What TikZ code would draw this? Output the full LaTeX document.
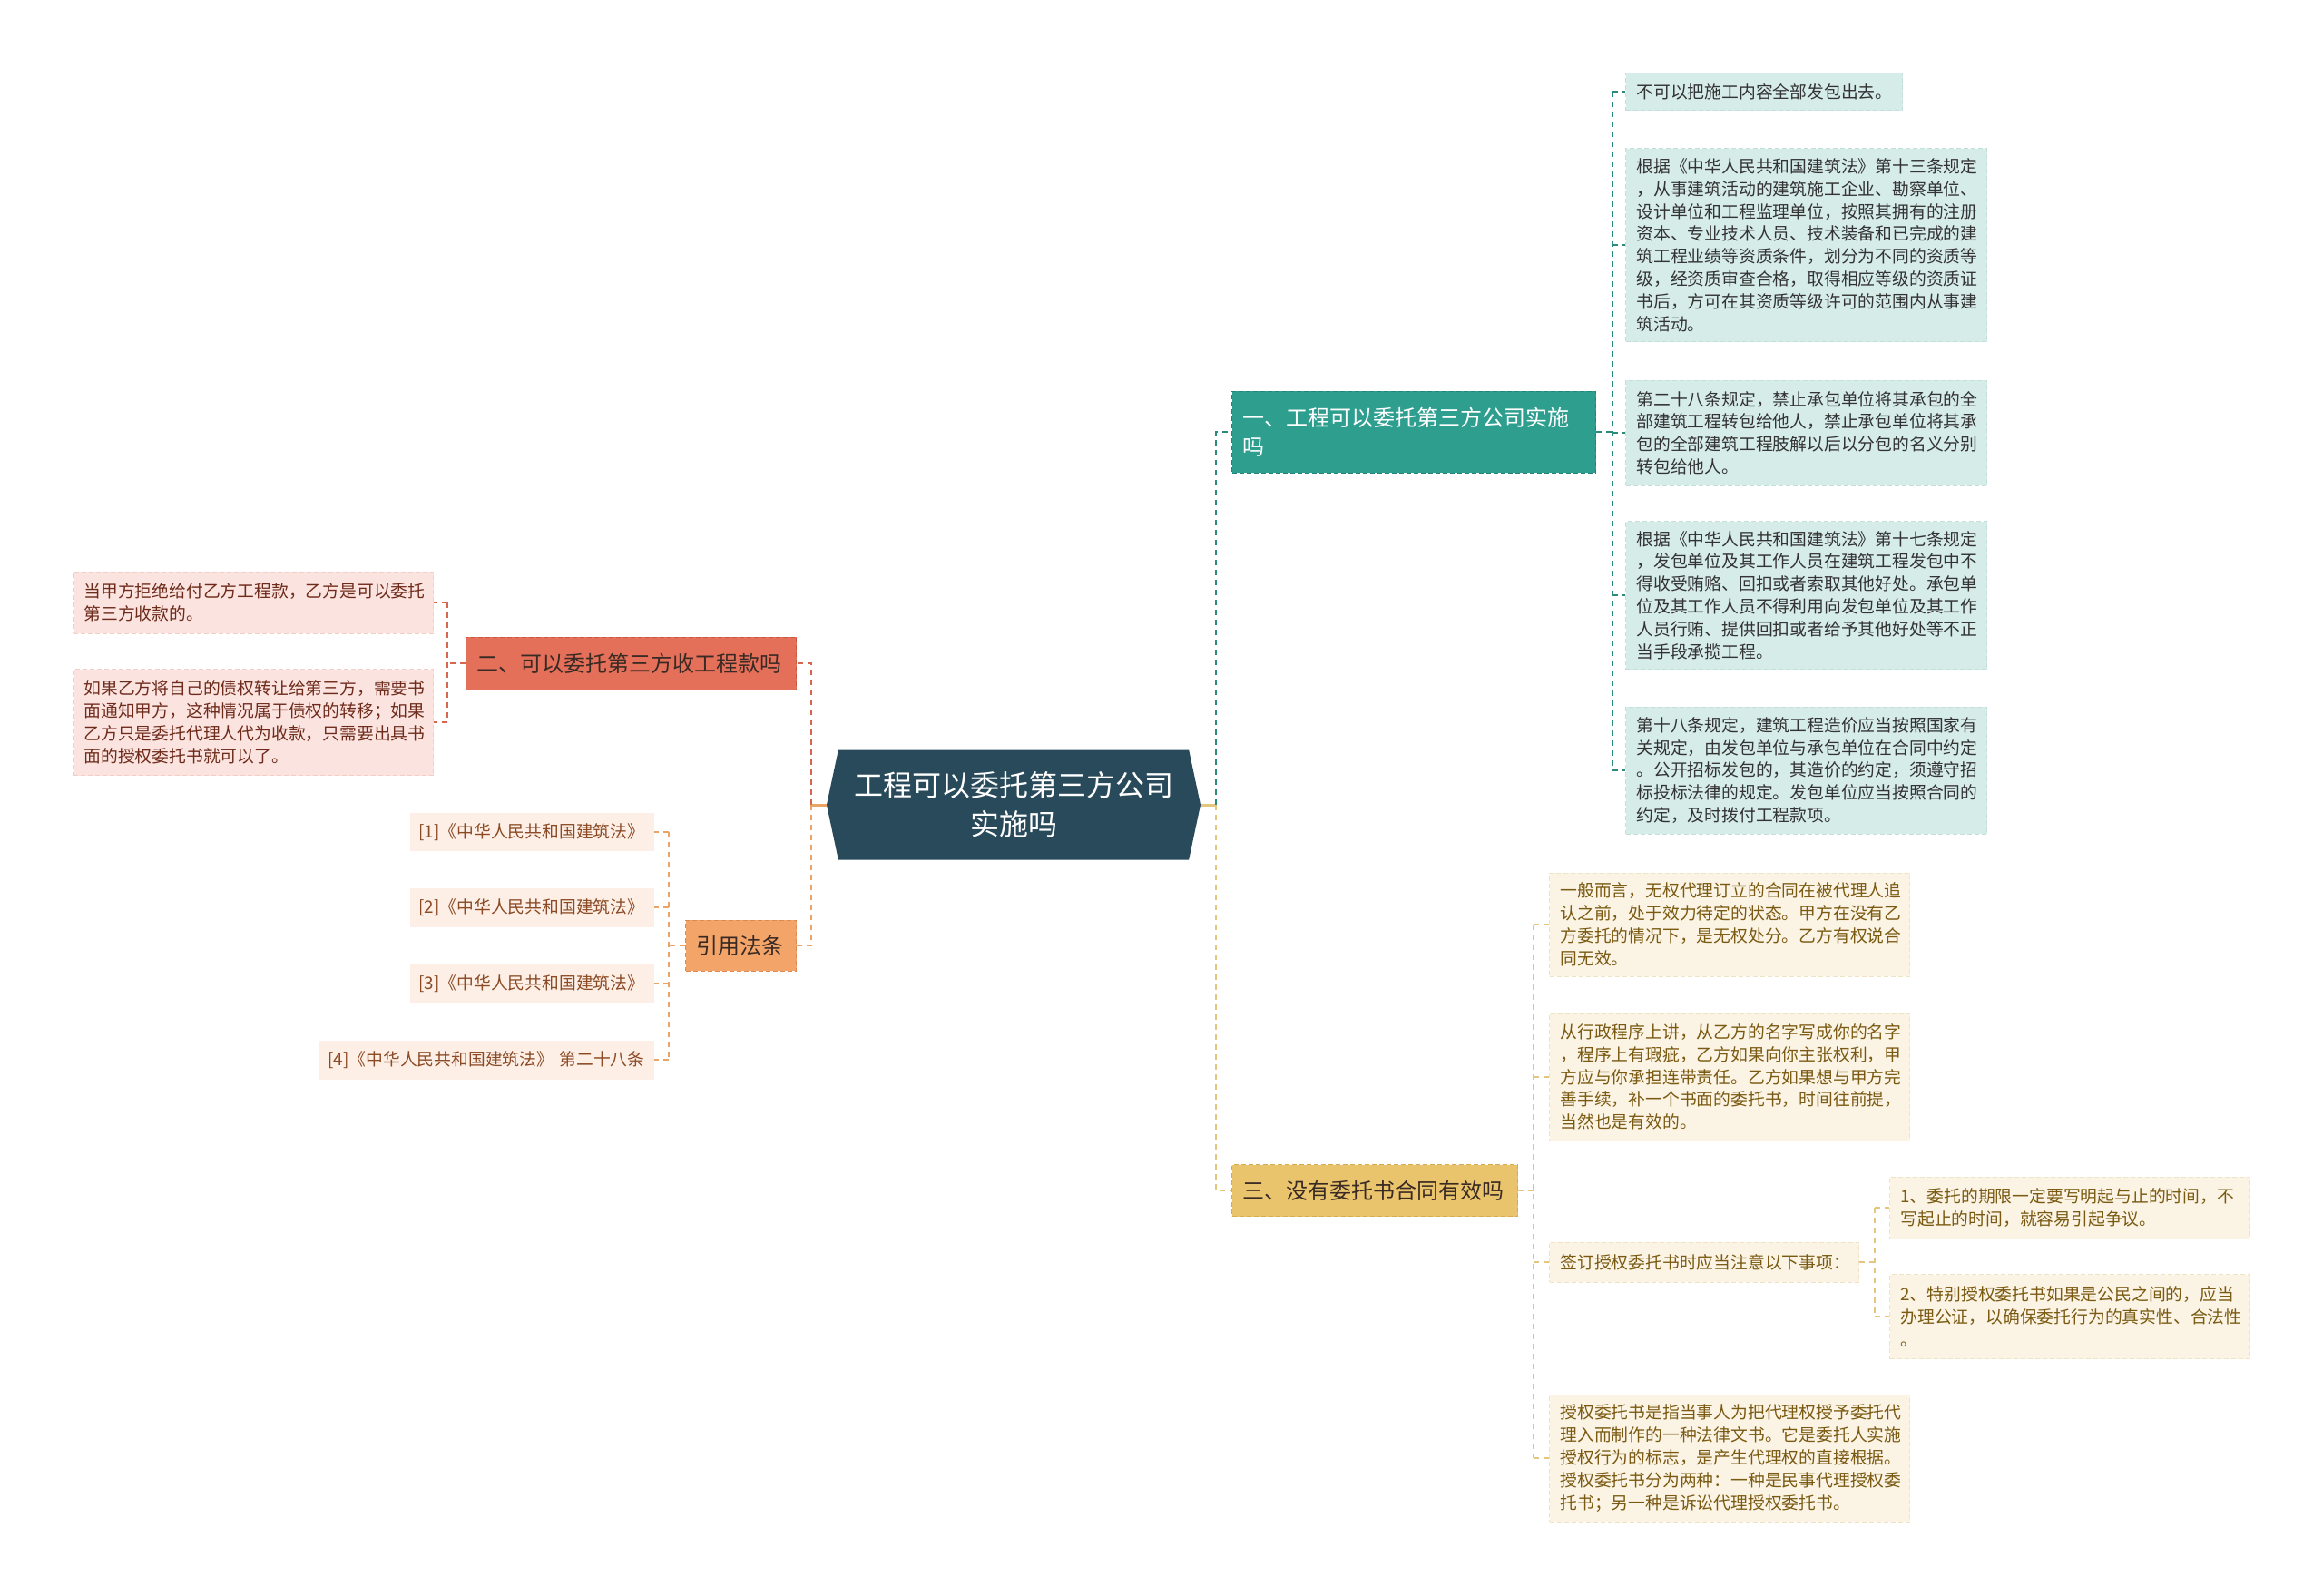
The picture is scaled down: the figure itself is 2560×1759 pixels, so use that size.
\documentclass[tikz,border=0pt]{standalone}
\usepackage{fontspec}
\setmainfont{Noto Sans CJK SC}
\usetikzlibrary{shapes.symbols}

\definecolor{rootfill}{HTML}{284A5A}
\definecolor{tealfill}{HTML}{2E9E8F}
\definecolor{tealdraw}{HTML}{23857A}
\definecolor{tealline}{HTML}{2A8A7C}
\definecolor{tealleaf}{HTML}{D6ECE9}
\definecolor{tealleafdraw}{HTML}{C2DFDA}
\definecolor{redfill}{HTML}{E5705A}
\definecolor{reddraw}{HTML}{C9573F}
\definecolor{redline}{HTML}{D6674F}
\definecolor{redleaf}{HTML}{FBE3DF}
\definecolor{redleafdraw}{HTML}{F2CEC6}
\definecolor{redtext}{HTML}{6E2B1B}
\definecolor{orangefill}{HTML}{F3A468}
\definecolor{orangedraw}{HTML}{DC8A4F}
\definecolor{orangeline}{HTML}{E9A466}
\definecolor{orangeleaf}{HTML}{FDEFE6}
\definecolor{orangetext}{HTML}{8B4A24}
\definecolor{yellowfill}{HTML}{E9C46C}
\definecolor{yellowdraw}{HTML}{D4AC50}
\definecolor{yellowline}{HTML}{E5C67E}
\definecolor{yellowleaf}{HTML}{FBF3E3}
\definecolor{yellowleafdraw}{HTML}{F0E3C4}
\definecolor{yellowtext}{HTML}{7A5A12}
\definecolor{darktext}{HTML}{3A2A24}

\tikzset{
	box/.style={rectangle, anchor=west, inner xsep=12pt, inner ysep=0pt, align=left,
		line width=1pt, dash pattern=on 5pt off 3pt},
	topic/.style={box, font=\fontsize{24}{32}\selectfont},
	leaf/.style={box, font=\fontsize{18.8}{24.8}\selectfont},
	link/.style={line width=2.8pt, dash pattern=on 6pt off 5pt},
}

\begin{document}
\begin{tikzpicture}[x=1pt, y=-1pt]
	\fill[white] (0,0) rectangle (2560,1759);
	\useasboundingbox (0,0) rectangle (2560,1759);

	% centre
	\node[signal, signal to=east and west, signal pointer angle=156, fill=rootfill,
		minimum width=412, minimum height=121, inner sep=0pt, align=center, text=white,
		font=\fontsize{32}{43}\selectfont] (root) at (1117, 887) {工程可以委托第三方公司\\实施吗};
	\coordinate (rj) at (1340, 887);
	\coordinate (rl) at (894, 887);

	% main topics
	\node[topic, fill=tealfill, draw=tealdraw, text=white, text width=377, minimum height=90]
		(b1) at (1357, 476) {一、工程可以委托第三方公司实施\\吗};
	\node[topic, fill=redfill, draw=reddraw, text=darktext, text width=340, minimum height=58]
		(b2) at (513, 731) {二、可以委托第三方收工程款吗};
	\node[topic, fill=orangefill, draw=orangedraw, text=darktext, text width=98, inner xsep=12pt, minimum height=56]
		(ref) at (755, 1042) {引用法条};
	\node[topic, fill=yellowfill, draw=yellowdraw, text=darktext, text width=291, minimum height=57]
		(b3) at (1357, 1312) {三、没有委托书合同有效吗};

	% topic one
	\node[leaf, fill=tealleaf, draw=tealleafdraw, text=black!80, text width=281, minimum height=41]
		(l1a) at (1791, 101) {不可以把施工内容全部发包出去。};
	\node[leaf, fill=tealleaf, draw=tealleafdraw, text=black!80, text width=374, minimum height=213]
		(l1b) at (1791, 270) {根据《中华人民共和国建筑法》第十三条规定\\，从事建筑活动的建筑施工企业、勘察单位、\\设计单位和工程监理单位，按照其拥有的注册\\资本、专业技术人员、技术装备和已完成的建\\筑工程业绩等资质条件，划分为不同的资质等\\级，经资质审查合格，取得相应等级的资质证\\书后，方可在其资质等级许可的范围内从事建\\筑活动。};
	\node[leaf, fill=tealleaf, draw=tealleafdraw, text=black!80, text width=374, minimum height=116]
		(l1c) at (1791, 477) {第二十八条规定，禁止承包单位将其承包的全\\部建筑工程转包给他人，禁止承包单位将其承\\包的全部建筑工程肢解以后以分包的名义分别\\转包给他人。};
	\node[leaf, fill=tealleaf, draw=tealleafdraw, text=black!80, text width=374, minimum height=163]
		(l1d) at (1791, 656) {根据《中华人民共和国建筑法》第十七条规定\\，发包单位及其工作人员在建筑工程发包中不\\得收受贿赂、回扣或者索取其他好处。承包单\\位及其工作人员不得利用向发包单位及其工作\\人员行贿、提供回扣或者给予其他好处等不正\\当手段承揽工程。};
	\node[leaf, fill=tealleaf, draw=tealleafdraw, text=black!80, text width=374, minimum height=140]
		(l1e) at (1791, 849) {第十八条规定，建筑工程造价应当按照国家有\\关规定，由发包单位与承包单位在合同中约定\\。公开招标发包的，其造价的约定，须遵守招\\标投标法律的规定。发包单位应当按照合同的\\约定，及时拨付工程款项。};

	% topic two
	\node[leaf, fill=redleaf, draw=redleafdraw, text=redtext, text width=373, minimum height=68]
		(l2a) at (80, 664) {当甲方拒绝给付乙方工程款，乙方是可以委托\\第三方收款的。};
	\node[leaf, fill=redleaf, draw=redleafdraw, text=redtext, text width=373, minimum height=117]
		(l2b) at (80, 796) {如果乙方将自己的债权转让给第三方，需要书\\面通知甲方，这种情况属于债权的转移；如果\\乙方只是委托代理人代为收款，只需要出具书\\面的授权委托书就可以了。};

	% laws
	\node[leaf, fill=orangeleaf, text=orangetext, inner xsep=10pt, text width=249, minimum height=42]
		(r1) at (451, 917) {[1]《中华人民共和国建筑法》};
	\node[leaf, fill=orangeleaf, text=orangetext, inner xsep=10pt, text width=249, minimum height=43]
		(r2) at (451, 1000) {[2]《中华人民共和国建筑法》};
	\node[leaf, fill=orangeleaf, text=orangetext, inner xsep=10pt, text width=249, minimum height=42]
		(r3) at (451, 1084) {[3]《中华人民共和国建筑法》};
	\node[leaf, fill=orangeleaf, text=orangetext, inner xsep=10pt, text width=349, minimum height=43]
		(r4) at (351, 1168) {[4]《中华人民共和国建筑法》~第二十八条};

	% topic three
	\node[leaf, fill=yellowleaf, draw=yellowleafdraw, text=yellowtext, text width=373, minimum height=114]
		(l3a) at (1707, 1019) {一般而言，无权代理订立的合同在被代理人追\\认之前，处于效力待定的状态。甲方在没有乙\\方委托的情况下，是无权处分。乙方有权说合\\同无效。};
	\node[leaf, fill=yellowleaf, draw=yellowleafdraw, text=yellowtext, text width=373, minimum height=140]
		(l3b) at (1707, 1187) {从行政程序上讲，从乙方的名字写成你的名字\\，程序上有瑕疵，乙方如果向你主张权利，甲\\方应与你承担连带责任。乙方如果想与甲方完\\善手续，补一个书面的委托书，时间往前提，\\当然也是有效的。};
	\node[leaf, fill=yellowleaf, draw=yellowleafdraw, text=yellowtext, text width=317, minimum height=44]
		(l3c) at (1707, 1391) {签订授权委托书时应当注意以下事项：};
	\node[leaf, fill=yellowleaf, draw=yellowleafdraw, text=yellowtext, text width=373, minimum height=140]
		(l3d) at (1707, 1607) {授权委托书是指当事人为把代理权授予委托代\\理入而制作的一种法律文书。它是委托人实施\\授权行为的标志，是产生代理权的直接根据。\\授权委托书分为两种：一种是民事代理授权委\\托书；另一种是诉讼代理授权委托书。};
	\node[leaf, fill=yellowleaf, draw=yellowleafdraw, text=yellowtext, text width=373, minimum height=68]
		(l3e) at (2082, 1331) {1、委托的期限一定要写明起与止的时间，不\\写起止的时间，就容易引起争议。};
	\node[leaf, fill=yellowleaf, draw=yellowleafdraw, text=yellowtext, text width=373, minimum height=93]
		(l3f) at (2082, 1451) {2、特别授权委托书如果是公民之间的，应当\\办理公证，以确保委托行为的真实性、合法性\\。};

	% Draw the edges from the centre
	\draw[line width=3pt, yellowline] (root.east) -- (rj);
	\draw[line width=3pt, orangeline] (root.west) -- (rl);
	\draw[link, tealline] (rj) |- (b1.west);
	\draw[link, yellowline] (rj) |- (b3.west);
	\draw[link, redline] (rl) |- (b2.east);
	\draw[link, orangeline] (rl) |- (ref.east);

	% Draw the edges of topic one
	\coordinate (t1) at (1777, 476);
	\draw[link, tealline] (b1.east) -- (t1);
	\draw[link, tealline] (l1a.west -| t1) -- (l1e.west -| t1);
	\foreach \n in {l1a,l1b,l1c,l1d,l1e}
		\draw[link, tealline] (\n.west -| t1) -- (\n.west);

	% Draw the edges of topic two
	\coordinate (t2) at (493, 731);
	\draw[link, redline] (b2.west) -- (t2);
	\draw[link, redline] (l2a.east -| t2) -- (l2b.east -| t2);
	\foreach \n in {l2a,l2b}
		\draw[link, redline] (\n.east -| t2) -- (\n.east);

	% Draw the edges of the laws
	\coordinate (t4) at (737, 1042);
	\draw[link, orangeline] (ref.west) -- (t4);
	\draw[link, orangeline] (r1.east -| t4) -- (r4.east -| t4);
	\foreach \n in {r1,r2,r3,r4}
		\draw[link, orangeline] (\n.east -| t4) -- (\n.east);

	% Draw the edges of topic three
	\coordinate (t3) at (1690, 1312);
	\draw[link, yellowline] (b3.east) -- (t3);
	\draw[link, yellowline] (l3a.west -| t3) -- (l3d.west -| t3);
	\foreach \n in {l3a,l3b,l3c,l3d}
		\draw[link, yellowline] (\n.west -| t3) -- (\n.west);

	\coordinate (t5) at (2066, 1391);
	\draw[link, yellowline] (l3c.east) -- (t5);
	\draw[link, yellowline] (l3e.west -| t5) -- (l3f.west -| t5);
	\foreach \n in {l3e,l3f}
		\draw[link, yellowline] (\n.west -| t5) -- (\n.west);
\end{tikzpicture}
\end{document}
